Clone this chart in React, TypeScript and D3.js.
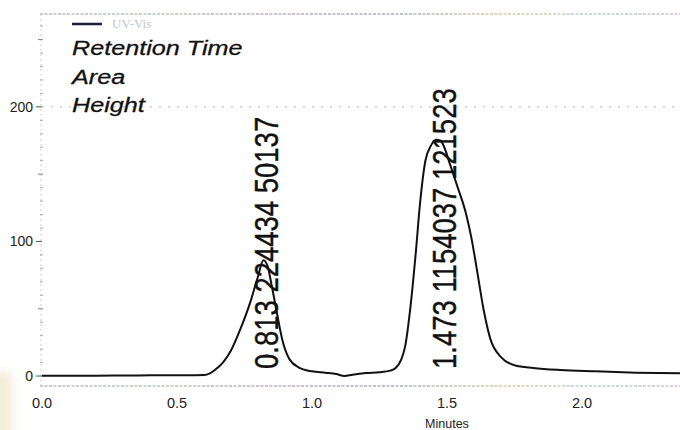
import React from 'react';
import * as d3 from 'd3';

// Detector trace (minutes, signal)
const timesMin = [
  0, 0.1, 0.2, 0.3, 0.4, 0.5, 0.6, 0.62, 0.64, 0.67, 0.7, 0.735, 0.77, 0.8, 0.82,
  0.835, 0.85, 0.87, 0.89, 0.915, 0.95, 1.0, 1.05, 1.09, 1.12, 1.15, 1.2, 1.25,
  1.29, 1.31, 1.33, 1.345, 1.365, 1.385, 1.4, 1.42, 1.44, 1.46, 1.475, 1.49, 1.51,
  1.54, 1.57, 1.59, 1.61, 1.635, 1.66, 1.7, 1.75, 1.82, 1.92, 2.05, 2.2, 2.363,
];
const signal = [
  0.3, 0.3, 0.3, 0.4, 0.5, 0.6, 0.8, 1.8, 4.5, 10, 19, 35, 54, 74, 86,
  82, 68, 47, 27, 13, 6.5, 3.5, 2.5, 1.5, 0, 1, 2.2, 2.8,
  4, 6, 12, 22, 52, 93, 128, 160, 171, 175.5, 175, 170, 158,
  140, 121, 103, 80, 50, 28, 14, 8, 6, 4.5, 3.5, 2.5, 2,
];

const xTicks = [0, 0.5, 1.0, 1.5, 2.0];
const yTicksMajor = [0, 100, 200];
const yGridValues = [200];

// Integration results
const peakTimes = [0.813, 1.473];
const peakAreas = [224434, 1154037];
const peakHeights = [50137, 121523];

const seriesName = 'UV-Vis';
const legendLines = ['Retention Time', 'Area', 'Height'];
const xTitle = 'Minutes';

const SANS = "'Liberation Sans', Arial, Helvetica, sans-serif";

export default function App() {
  const W = 680;
  const H = 430;
  const x = d3.scaleLinear().domain([-0.0074, 2.363]).range([40, 680]);
  const y = d3.scaleLinear().domain([-7.4, 269]).range([386, 14]);

  const pts: [number, number][] = timesMin.map((t, i) => [t, signal[i]]);
  const line = d3
    .line<[number, number]>()
    .x((d) => x(d[0]))
    .y((d) => y(d[1]))
    .curve(d3.curveMonotoneX);

  const minorTicks = d3.range(10, 270, 10).filter((v) => v % 100 !== 0);
  const axisX = x(0) - 1;
  const [x0, x1] = x.range();
  const [yb, yt] = y.range();

  return (
    <div style={{ position: 'absolute', left: 0, top: 0 }}>
      <svg width={W} height={H} style={{ display: 'block', background: '#fff' }}>
        <defs>
          <linearGradient id="frameDots" gradientUnits="userSpaceOnUse" x1={x0} x2={x1} y1={0} y2={0}>
            <stop offset="0" stopColor="#b4aac8" />
            <stop offset="0.18" stopColor="#a9c2a8" />
            <stop offset="0.36" stopColor="#b49cc4" />
            <stop offset="0.55" stopColor="#9aa0b8" />
            <stop offset="0.72" stopColor="#d0c49a" />
            <stop offset="0.86" stopColor="#a8ccb8" />
            <stop offset="1" stopColor="#c4b4d4" />
          </linearGradient>
          <filter id="haze" x="-50%" y="-50%" width="200%" height="200%">
            <feGaussianBlur stdDeviation="4" />
          </filter>
        </defs>

        {/* paper shading at the lower-left corner */}
        <rect x={-6} y={372} width={18} height={70} fill="#efe5c8" opacity={0.7} filter="url(#haze)" />

        {/* frame lines */}
        <line x1={x0} x2={x1} y1={yt} y2={yt} stroke="url(#frameDots)" strokeWidth={1.3} strokeDasharray="3 1.5" opacity={0.85} />
        <line x1={x0} x2={x1} y1={yb} y2={yb} stroke="url(#frameDots)" strokeWidth={1.3} strokeDasharray="3 1.5" opacity={0.85} />

        {/* y axis */}
        <line x1={axisX} x2={axisX} y1={yt} y2={yb} stroke="#cfcfcf" strokeWidth={1} strokeDasharray="2 3" />
        {minorTicks.map((v) => (
          <line
            key={'m' + v}
            x1={v % 50 === 0 ? axisX - 3 : axisX - 1}
            x2={axisX + 2}
            y1={y(v)}
            y2={y(v)}
            stroke={v % 50 === 0 ? '#888' : '#aaa'}
            strokeWidth={1}
          />
        ))}
        {yTicksMajor.map((v) => (
          <g key={'y' + v}>
            <line x1={axisX - 5} x2={axisX + 1} y1={y(v)} y2={y(v)} stroke="#555" strokeWidth={1} />
            <text
              x={axisX - 8}
              y={y(v)}
              dy="0.35em"
              textAnchor="end"
              fontFamily={SANS}
              fontSize={14}
              fill="#222"
            >
              {v}
            </text>
          </g>
        ))}

        {/* grid */}
        {yGridValues.map((v) => (
          <line
            key={'g' + v}
            x1={x(0)}
            x2={x1}
            y1={y(v)}
            y2={y(v)}
            stroke="#c4c4c4"
            strokeWidth={1.2}
            strokeDasharray="2 7"
          />
        ))}

        {/* x tick labels */}
        {xTicks.map((t) => (
          <text
            key={'x' + t}
            x={x(t)}
            y={408}
            textAnchor="middle"
            fontFamily={SANS}
            fontSize={14.5}
            fill="#222"
          >
            {t.toFixed(1)}
          </text>
        ))}
        <text x={x(1.5)} y={428} textAnchor="middle" fontFamily={SANS} fontSize={12.5} fill="#222">
          {xTitle}
        </text>

        {/* trace */}
        <path d={line(pts) ?? ''} fill="none" stroke="#111" strokeWidth={2} strokeLinejoin="round" />

        {/* peak annotations */}
        {peakTimes.map((rt, i) => (
          <text
            key={'p' + i}
            transform={`translate(${x(rt) + 16},${y(0) - 7}) scale(1.2,1) rotate(-90)`}
            fontFamily={SANS}
            fontSize={27.5}
            fill="#111"
            stroke="#111"
            strokeWidth={0.35}
          >
            {`${rt.toFixed(3)} ${peakAreas[i]} ${peakHeights[i]}`}
          </text>
        ))}

        {/* legend */}
        <line x1={72} x2={102} y1={24} y2={24} stroke="#1c1c3c" strokeWidth={2.5} />
        <text x={112} y={28} fontFamily="'Liberation Serif', 'DejaVu Serif', serif" fontSize={13} fill="#c4c4ce">
          {seriesName}
        </text>
        {legendLines.map((s, i) => (
          <text
            key={'l' + i}
            transform={`translate(72,${55 + i * 28.5}) scale(1.2,1)`}
            fontFamily={SANS}
            fontStyle="italic"
            fontSize={21}
            fill="#111"
            stroke="#111"
            strokeWidth={0.3}
          >
            {s}
          </text>
        ))}
      </svg>
    </div>
  );
}
